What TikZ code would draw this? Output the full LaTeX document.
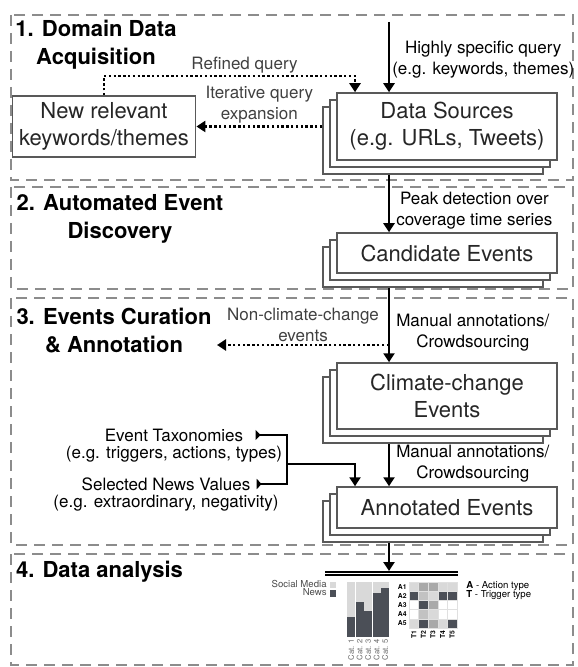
\documentclass[tikz,border=0pt]{standalone}
\usepackage{fontspec}
\setmainfont{TeX Gyre Heros}
\usetikzlibrary{positioning, calc, arrows.meta, shadows}

\newcommand{\boxfont}{\fontsize{11}{13.5}\selectfont}
\newcommand{\headfont}{\bfseries\fontsize{11}{14}\selectfont}
\newcommand{\notefont}{\fontsize{8.5}{10.5}\selectfont}
\newcommand{\legfont}{\fontsize{4.8}{5.6}\selectfont}
\newcommand{\catfont}{\fontsize{3.8}{4.5}\selectfont}
\newcommand{\cellfont}{\bfseries\fontsize{3.4}{4}\selectfont}

\definecolor{celld}{HTML}{4B4F57}
\definecolor{celll}{HTML}{D9D9D9}
\definecolor{cellm}{HTML}{A9A9A9}
\definecolor{cells}{HTML}{C2C2C2}
\definecolor{cellw}{HTML}{FFFFFF}

\tikzset{
  phase/.style={draw=black!45, line width=0.75pt, dash pattern=on 5.5pt off 3.5pt},
  stack/.style={draw=black!65, fill=white, line width=0.75pt, minimum width=110pt, align=center, font=\boxfont, text=black!85,
    copy shadow={shadow xshift=-7pt, shadow yshift=-7pt},
    copy shadow={shadow xshift=-3.5pt, shadow yshift=-3.5pt}},
  heading/.style={font=\headfont, align=center},
  note/.style={font=\notefont, align=center, inner sep=1pt},
  flow/.style={->, line width=1.3pt},
  hint/.style={->, line width=1.2pt, dash pattern=on 1.2pt off 1.2pt},
  fork/.style={line width=1.2pt, {Triangle[reversed, length=2.5pt, width=5pt]}-{Triangle[reversed, length=2.5pt, width=5pt]}},
}

\begin{document}
\begin{tikzpicture}[x=0.5pt, y=-0.5pt, >={Triangle[length=4.5pt, width=5.5pt]}]
  \useasboundingbox (0,0) rectangle (577,667);

  % the four phases
  \draw[phase] (11,15) rectangle (573,180);
  \draw[phase] (11,187) rectangle (573,289);
  \draw[phase] (11,298) rectangle (573,545);
  \draw[phase] (11,554) rectangle (573,665);

  \node[heading] (h1) at (96,45) {1. Domain Data\\Acquisition};
  \node[heading] (h2) at (120,219) {2. Automated Event\\Discovery};
  \node[heading] (h3) at (114,331) {3. Events Curation\\\& Annotation};
  \node[heading] (h4) at (99.5,572) {4. Data analysis};

  \coordinate (spine) at (389,0);
  \coordinate (side) at (355,0);
  \coordinate (query) at (389,22);
  \coordinate (refine) at (355,76);
  \coordinate (drop) at (217,345);
  \coordinate (join) at (287,464);
  \coordinate (chartin) at (389,571);

  % stacked boxes
  \node[stack, minimum height=33.5pt] (src) at (447,126.5) {Data Sources\\(e.g. URLs, Tweets)};
  \node[draw=black!65, line width=0.75pt, minimum width=86pt, minimum height=29.5pt, align=center, font=\boxfont, text=black!85] (kw) at (104,126.5) {New relevant\\keywords/themes};
  \node[stack, minimum height=20pt] (cand) at (447,253) {Candidate Events};
  \node[stack, minimum height=33pt] (clim) at (447,396) {Climate-change\\Events};
  \node[stack, minimum height=20.5pt] (anno) at (447,507.5) {Annotated Events};

  \draw[flow] (query) -- node[note, right, pos=0.53] (hq) {Highly specific query\\(e.g. keywords, themes)} (query |- src.north);
  \draw[flow] ($(src.south -| spine)+(0,14)$) -- node[note, right=2pt, pos=0.63] (peak) {Peak detection over\\coverage time series} (cand.north -| spine);
  \draw[flow] ($(cand.south -| spine)+(0,14)$) -- node[note, right=2pt, pos=0.6] (man1) {Manual annotations/\\Crowdsourcing} (clim.north -| spine);
  \draw[flow] ($(clim.south -| spine)+(0,14)$) -- node[note, right=2pt, pos=0.48] (man2) {Manual annotations/\\Crowdsourcing} (anno.north -| spine);
  \draw[flow] ($(anno.south -| spine)+(0,14)$) -- (chartin);

  \draw[hint] (kw.north) |- node[note, above, pos=0.78, text=black!75] (rq) {Refined query} (refine) -- (refine |- src.north);
  \draw[hint] ($(src.west)+(-14,0)$) -- node[note, above, text=black!75] (iq) {Iterative query\\expansion} (kw.east);
  \draw[hint] (spine |- drop) -- node[note, above, text=black!75] (ncc) {Non-climate-change\\events} (drop);

  % taxonomies and news values
  \node[note] (tax) at (174,435) {Event Taxonomies};
  \node[note, below=0pt of tax] (taxeg) {(e.g. triggers, actions, types)};
  \node[note] (news) at (166,484) {Selected News Values};
  \node[note, below=0pt of news] (newseg) {(e.g. extraordinary, negativity)};
  \draw[fork, shorten <=5pt, shorten >=2pt] (tax.east) -| (join) |- (news.east);
  \draw[flow] (join) -| (anno.north -| side);

  % data analysis chart
  \draw[line width=0.75pt, double, double distance=0.75pt] (325,573.5) -- (458,573.5);
  \fill[celll] (330,582) rectangle (336,588);
  \fill[celld] (330,590) rectangle (336,597);
  \node[font=\legfont, anchor=east, inner sep=1pt, text=black!70] (social) at (329,584) {Social Media};
  \node[font=\legfont, anchor=east, inner sep=1pt, text=black!70] (newsleg) at (329,592) {News};
  \foreach \i/\top in {1/617,2/602,3/611,4/593,5/588} {
    \pgfmathsetmacro{\bx}{338.5+8.5*\i}
    \fill[celll] (\bx,582) rectangle (\bx+8,\top);
    \fill[celld] (\bx,\top) rectangle (\bx+8,637);
    \node[font=\catfont, rotate=90, anchor=east, inner sep=0.5pt, text=black!60] (cat\i) at (\bx+4,638) {Cat. \i};
  }
  \foreach \cols [count=\r] in {{l,m,m,l,l},{d,s,l,d,d},{w,d,m,w,w},{w,s,l,w,w},{l,d,m,l,d}} {
    \foreach \c [count=\t] in \cols {
      \filldraw[fill=cell\c, draw=black!12, line width=0.3pt] (399.4+9.6*\t,572.8+9.2*\r) rectangle ++(9.6,9.2);
    }
    \node[font=\cellfont, anchor=east, inner sep=0.5pt] (a\r) at (408,577.4+9.2*\r) {A\r};
  }
  \foreach \t in {1,...,5}
    \node[font=\cellfont, rotate=90, anchor=east, inner sep=0.5pt] (t\t) at (404.2+9.6*\t,629) {T\t};
  \node[font=\legfont, anchor=west, inner sep=0.5pt] (act) at (465,586) {\textbf{A} - Action type};
  \node[font=\legfont, anchor=west, inner sep=0.5pt] (trig) at (465,595) {\textbf{T} - Trigger type};

\end{tikzpicture}
\end{document}
